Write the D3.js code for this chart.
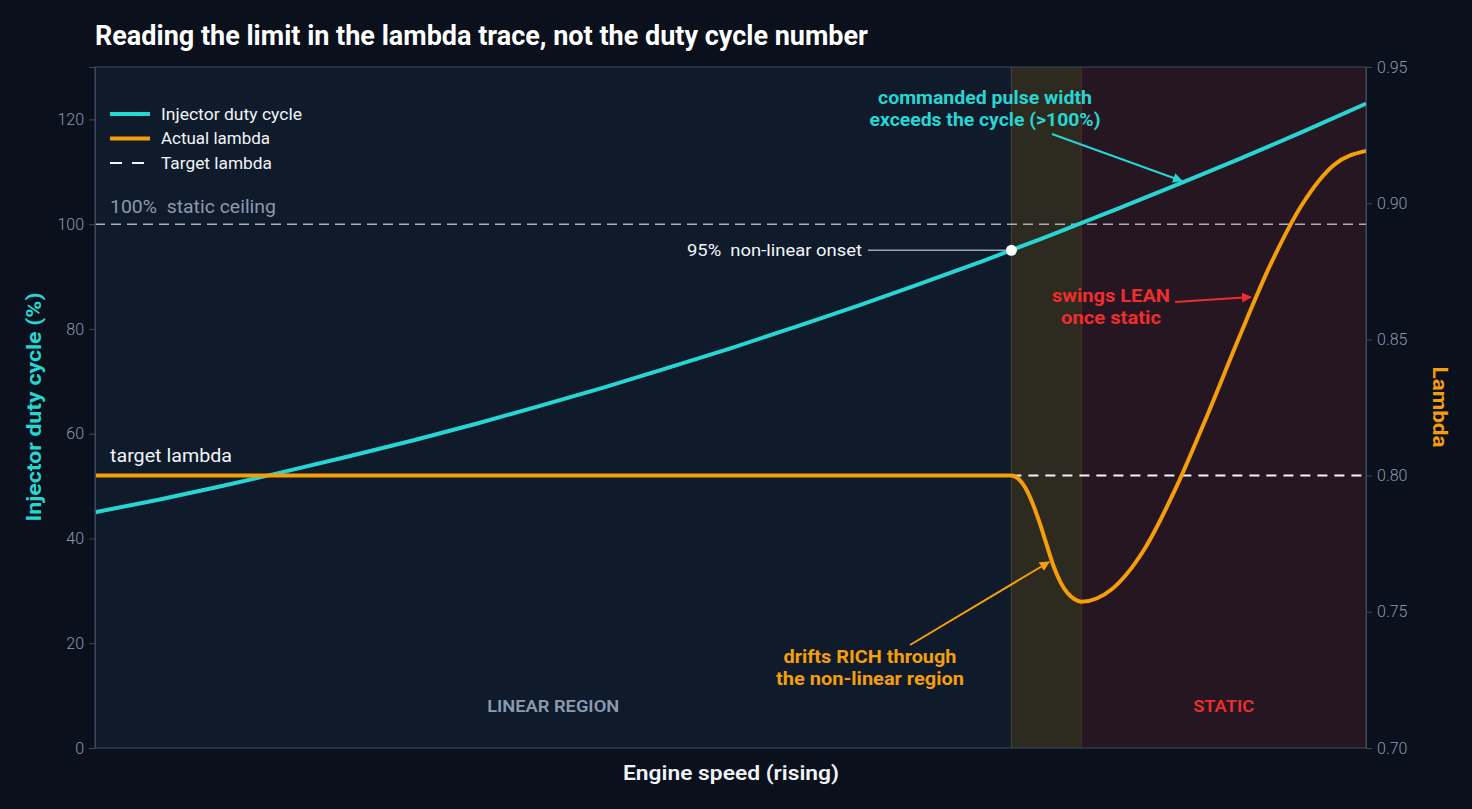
<!DOCTYPE html>
<html><head><meta charset="utf-8">
<script src="https://cdn.jsdelivr.net/npm/d3@7"></script>
<style>
html,body{margin:0;padding:0;background:#0a101c;}
svg{display:block;font-family:Roboto,"Noto Sans",sans-serif;}
text{white-space:pre;}
</style></head>
<body><svg id="c" width="1472" height="809"></svg>
<script>
// ---- data ----
const speedDuty = [0,5,10,15,20,25,30,35,40,45,50,55,60,65,70,75,80,85,90,95,100];
const dutyCycle = [45.0,47.4,50.0,52.8,55.7,58.7,61.9,65.3,68.8,72.5,76.3,80.3,84.4,88.7,93.1,97.7,102.5,107.4,112.4,117.6,123.0];
const speedLambda = [0,72.1,72.65,73.2,73.75,74.3,74.85,75.4,75.95,76.5,77.05,77.6,80,82.5,85,87.5,90,92.5,95,97.5,100];
const lambdaActual = [0.800,0.800,0.7988,0.7955,0.790,0.783,0.775,0.767,0.761,0.757,0.7547,0.7537,0.7583,0.7725,0.7950,0.8220,0.8505,0.8776,0.8997,0.9141,0.9192];
const targetLambda = 0.80;
const staticCeiling = 100;
const onsetSpeed = 72.1, onsetDuty = 95;
const staticSpeed = 77.6;
const dutyTicks = [0,20,40,60,80,100,120];
const lambdaTicks = [0.70,0.75,0.80,0.85,0.90,0.95];

// ---- layout ----
const svg = d3.select("#c");
const L=95, R=1366, T=67, B=748;
const x = d3.scaleLinear().domain([0,100]).range([L,R]);
const yD = d3.scaleLinear().domain([0,130]).range([B,T]);
const yL = d3.scaleLinear().domain([0.70,0.95]).range([B,T]);

const C = {cyan:"#27d6d3", orange:"#f59e0b", red:"#ef2d2d", gray:"#8b9ab0", white:"#f1f5f9", axis:"#3b4a5e"};

function fit(sel, w){ sel.attr("textLength", w).attr("lengthAdjust","spacingAndGlyphs"); return sel; }

const defs = svg.append("defs");
[["cy",C.cyan],["or",C.orange],["rd",C.red]].forEach(([id,col])=>{
  defs.append("marker").attr("id","ah-"+id).attr("viewBox","0 0 10 10").attr("refX",9).attr("refY",5)
    .attr("markerWidth",5).attr("markerHeight",5).attr("orient","auto-start-reverse").attr("markerUnits","strokeWidth")
    .append("path").attr("d","M0,0L10,5L0,10z").attr("fill",col);
});

// plot background + bands
svg.append("rect").attr("x",L).attr("y",T).attr("width",R-L).attr("height",B-T).attr("fill","#0f1a2a");
svg.append("rect").attr("x",x(onsetSpeed)).attr("y",T).attr("width",x(staticSpeed)-x(onsetSpeed)).attr("height",B-T).attr("fill","#2d2a20");
svg.append("rect").attr("x",x(staticSpeed)).attr("y",T).attr("width",x(100)-x(staticSpeed)).attr("height",B-T).attr("fill","#261622");
svg.append("line").attr("x1",x(onsetSpeed)).attr("x2",x(onsetSpeed)).attr("y1",T).attr("y2",B).attr("stroke","#4a4530").attr("stroke-width",1);
svg.append("line").attr("x1",x(staticSpeed)).attr("x2",x(staticSpeed)).attr("y1",T).attr("y2",B).attr("stroke","#5a2c28").attr("stroke-width",1);
svg.append("rect").attr("x",L).attr("y",T).attr("width",R-L).attr("height",B-T).attr("fill","none").attr("stroke",C.axis).attr("stroke-width",1);

// region labels
fit(svg.append("text").attr("x",(x(0)+x(onsetSpeed))/2).attr("y",712).attr("text-anchor","middle")
  .attr("fill",C.gray).attr("font-size",16).attr("font-weight",600).text("LINEAR REGION"),132);
fit(svg.append("text").attr("x",(x(staticSpeed)+x(100))/2).attr("y",712).attr("text-anchor","middle")
  .attr("fill",C.red).attr("font-size",16).attr("font-weight",600).text("STATIC"),61);

// static ceiling
svg.append("line").attr("x1",L).attr("x2",R).attr("y1",yD(staticCeiling)).attr("y2",yD(staticCeiling))
  .attr("stroke","#a3b0c2").attr("stroke-width",1.5).attr("stroke-dasharray","10,6");
fit(svg.append("text").attr("x",110).attr("y",213).attr("fill",C.gray).attr("font-size",19).text("100%  static ceiling"),166);

// target lambda dashed beyond onset
svg.append("line").attr("x1",x(onsetSpeed)).attr("x2",R).attr("y1",yL(targetLambda)).attr("y2",yL(targetLambda))
  .attr("stroke",C.white).attr("stroke-width",2).attr("stroke-dasharray","10,7");
fit(svg.append("text").attr("x",110).attr("y",462).attr("fill",C.white).attr("font-size",18).text("target lambda"),122);

// lines
const dutyLine = d3.line().x((d,i)=>x(speedDuty[i])).y(d=>yD(d)).curve(d3.curveMonotoneX);
svg.append("path").datum(dutyCycle).attr("d",dutyLine).attr("fill","none").attr("stroke",C.cyan).attr("stroke-width",4);
const lamLine = d3.line().x((d,i)=>x(speedLambda[i])).y(d=>yL(d)).curve(d3.curveMonotoneX);
svg.append("path").datum(lambdaActual).attr("d",lamLine).attr("fill","none").attr("stroke",C.orange).attr("stroke-width",4);

// onset marker
svg.append("line").attr("x1",868).attr("x2",x(onsetSpeed)-6).attr("y1",yD(onsetDuty)).attr("y2",yD(onsetDuty)).attr("stroke","#9aa6b6").attr("stroke-width",1.5);
svg.append("circle").attr("cx",x(onsetSpeed)).attr("cy",yD(onsetDuty)).attr("r",5.5).attr("fill","#ffffff");
fit(svg.append("text").attr("x",862).attr("y",yD(onsetDuty)+6).attr("text-anchor","end").attr("fill",C.white).attr("font-size",17).text("95%  non-linear onset"),175);

// annotations
function ann(lines, cx, y0, col, widths){
  lines.forEach((t,i)=>fit(svg.append("text").attr("x",cx).attr("y",y0+i*22).attr("text-anchor","middle")
    .attr("fill",col).attr("font-size",18).attr("font-weight",700).text(t), widths[i]));
}
ann(["commanded pulse width","exceeds the cycle (>100%)"],985,104,C.cyan,[214,231]);
svg.append("line").attr("x1",1052).attr("y1",134).attr("x2",1182).attr("y2",181).attr("stroke",C.cyan).attr("stroke-width",2).attr("marker-end","url(#ah-cy)");
ann(["swings LEAN","once static"],1111,302,C.red,[118,100]);
svg.append("line").attr("x1",1175).attr("y1",302).attr("x2",1251).attr("y2",297).attr("stroke",C.red).attr("stroke-width",2).attr("marker-end","url(#ah-rd)");
ann(["drifts RICH through","the non-linear region"],870,663,C.orange,[173,188]);
svg.append("line").attr("x1",910).attr("y1",645).attr("x2",1049).attr("y2",562).attr("stroke",C.orange).attr("stroke-width",2).attr("marker-end","url(#ah-or)");

// axes
const ax1 = svg.append("g").attr("transform",`translate(${L},0)`).call(d3.axisLeft(yD).tickValues(dutyTicks).tickSize(6).tickPadding(5));
const ax2 = svg.append("g").attr("transform",`translate(${R},0)`).call(d3.axisRight(yL).tickValues(lambdaTicks).tickFormat(d3.format(".2f")).tickSize(6).tickPadding(5));
[ax1,ax2].forEach(a=>{
  a.select(".domain").attr("stroke",C.axis);
  a.selectAll(".tick line").attr("stroke",C.axis);
  a.selectAll(".tick text").attr("fill",C.gray).attr("font-size",16).attr("font-weight",300).attr("font-family","Roboto,sans-serif");
});

// axis titles
fit(svg.append("text").attr("transform","translate(41,407) rotate(-90)").attr("text-anchor","middle")
  .attr("fill",C.cyan).attr("font-size",20).attr("font-weight",700).text("Injector duty cycle (%)"),229);
fit(svg.append("text").attr("transform","translate(1433,407) rotate(90)").attr("text-anchor","middle")
  .attr("fill",C.orange).attr("font-size",20).attr("font-weight",700).text("Lambda"),81);
fit(svg.append("text").attr("x",731).attr("y",780).attr("text-anchor","middle")
  .attr("fill",C.white).attr("font-size",21).attr("font-weight",600).text("Engine speed (rising)"),216);

// legend
const leg = [["Injector duty cycle",C.cyan,null,141],["Actual lambda",C.orange,null,109],["Target lambda",C.white,"12,10",111]];
leg.forEach(([t,col,dash,w],i)=>{
  const yy = 114 + i*24.5;
  svg.append("line").attr("x1",110).attr("x2",dash?144:150).attr("y1",yy).attr("y2",yy).attr("stroke",col)
    .attr("stroke-width",dash?2:4).attr("stroke-dasharray",dash);
  fit(svg.append("text").attr("x",161).attr("y",yy+5.5).attr("fill",C.white).attr("font-size",16).text(t),w);
});

// title
fit(svg.append("text").attr("x",95).attr("y",45).attr("fill","#ffffff").attr("font-size",27).attr("font-weight",700)
  .text("Reading the limit in the lambda trace, not the duty cycle number"),773);
</script></body></html>
